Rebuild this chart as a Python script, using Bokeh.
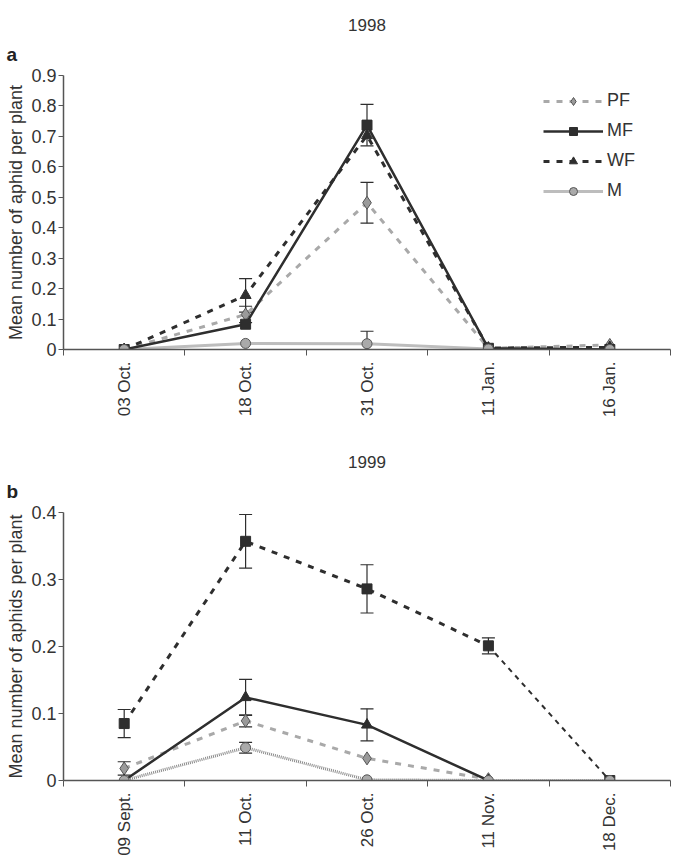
import math
from bokeh.plotting import figure
from bokeh.models import (FixedTicker, Range1d, Whisker, ColumnDataSource, Legend,
                          LegendItem, Title, TeeHead, NumeralTickFormatter)
from bokeh.layouts import column
from bokeh.embed import file_html
from bokeh.resources import INLINE

NAN = float("nan")
FONT = "Liberation Sans"
DARK = "#2e2e2e"
GREY = "#a9a9a9"
AXIS = "#555555"

# ---------------- Panel a (1998) ----------------
A_DATES = ["03 Oct.", "18 Oct.", "31 Oct.", "11 Jan.", "16 Jan."]
A_PF = [0.0, 0.115, 0.482, 0.004, 0.015]
A_PF_ERR = [None, 0.027, 0.067, None, None]
A_MF = [0.0, 0.083, 0.737, 0.004, 0.0]
A_MF_ERR = [None, None, 0.068, None, None]
A_WF = [0.0, 0.178, 0.703, 0.005, 0.007]
A_WF_ERR = [None, 0.055, None, None, None]
A_M = [0.0, 0.02, 0.019, 0.002, 0.0]
A_M_ERR = [None, None, 0.041, None, None]
A_YTICKS = [0, 0.1, 0.2, 0.3, 0.4, 0.5, 0.6, 0.7, 0.8, 0.9]

# ---------------- Panel b (1999) ----------------
B_DATES = ["09 Sept.", "11 Oct.", "26 Oct.", "11 Nov.", "18 Dec."]
B_SQ = [0.085, 0.357, 0.286, 0.201, 0.0]        # dark dashed, squares
B_SQ_ERR = [0.021, 0.040, 0.036, 0.012, None]
B_TRI = [0.0, 0.124, 0.083, 0.0, NAN]           # dark solid, triangles
B_TRI_ERR = [None, 0.027, 0.024, None, None]
B_DIA = [0.018, 0.089, 0.033, 0.002, NAN]       # grey dashed, diamonds
B_DIA_ERR = [0.010, 0.009, None, None, None]
B_CIR = [0.0, 0.049, 0.001, 0.0, 0.0]           # grey hatched, circles
B_CIR_ERR = [None, 0.008, None, None, None]
B_YTICKS = [0, 0.1, 0.2, 0.3, 0.4]


def base_fig(dates, yticks, ylabel, year, letter, height, top, bottom, right):
    n = len(dates)
    p = figure(width=685, height=height, output_backend="svg", toolbar_location=None,
               x_range=Range1d(0.5, n + 0.5), y_range=Range1d(0, yticks[-1]),
               min_border_left=63, min_border_right=right,
               min_border_top=top, min_border_bottom=bottom)
    p.xgrid.visible = False
    p.ygrid.visible = False
    p.outline_line_color = None
    p.background_fill_color = "white"
    p.border_fill_color = "white"

    # year title (outer) and panel letter (closer to frame)
    p.title.text = year
    p.title.align = "center"
    p.title.text_font = FONT
    p.title.text_font_size = "17px"
    p.title.text_font_style = "normal"
    p.title.text_color = "#333333"
    p.title.standoff = 0
    p.add_layout(Title(text=letter, align="left", offset=-57, text_font=FONT,
                       text_font_size="19px", text_font_style="bold",
                       text_line_height=0.7,
                       text_color="#222222", standoff=22), "above")

    xa = p.xaxis[0]
    xa.ticker = FixedTicker(ticks=list(range(1, n + 1)),
                            minor_ticks=[i + 0.5 for i in range(0, n + 1)])
    xa.major_label_overrides = {i + 1: d for i, d in enumerate(dates)}
    xa.major_label_orientation = math.pi / 2
    xa.major_tick_line_color = None
    xa.minor_tick_in = 0
    xa.minor_tick_out = 6
    xa.minor_tick_line_color = AXIS
    xa.axis_line_color = AXIS
    xa.axis_line_width = 1.5
    xa.major_label_text_font = FONT
    xa.major_label_text_font_size = "17px"
    xa.major_label_text_color = "#333333"
    xa.major_label_standoff = 6

    ya = p.yaxis[0]
    ya.ticker = FixedTicker(ticks=yticks)
    ya.formatter = NumeralTickFormatter(format="0.[0]")
    ya.major_tick_in = 0
    ya.major_tick_out = 5
    ya.minor_tick_line_color = None
    ya.major_tick_line_color = AXIS
    ya.axis_line_color = AXIS
    ya.axis_line_width = 1.5
    ya.major_label_text_font = FONT
    ya.major_label_text_font_size = "18px"
    ya.major_label_text_color = "#333333"
    ya.major_label_standoff = 2
    ya.axis_label = ylabel
    ya.axis_label_text_font = FONT
    ya.axis_label_text_font_size = "18px"
    ya.axis_label_text_font_style = "normal"
    ya.axis_label_text_color = "#333333"
    ya.axis_label_standoff = 2
    return p


def whisk(p, xs, ys, errs):
    bx, lo, hi = [], [], []
    for x, y, e in zip(xs, ys, errs):
        if e is not None:
            bx.append(x)
            lo.append(y - e)
            hi.append(y + e)
    src = ColumnDataSource(dict(x=bx, lower=lo, upper=hi))
    w = Whisker(base="x", lower="lower", upper="upper", source=src,
                line_color=DARK, line_width=1.2,
                upper_head=TeeHead(size=13, line_color=DARK, line_width=1.2),
                lower_head=TeeHead(size=13, line_color=DARK, line_width=1.2))
    p.add_layout(w)


# ---------- panel a ----------
nA = len(A_DATES)
xa_pos = list(range(1, nA + 1))
pa = base_fig(A_DATES, A_YTICKS, "Mean number of aphid per plant", "1998", "a",
              420, 75, 71, 1)

m_l = pa.line(xa_pos, A_M, line_color="#bdbdbd", line_width=3)
pf_l = pa.line(xa_pos, A_PF, line_color=GREY, line_width=3, line_dash="6 7")
wf_l = pa.line(xa_pos, A_WF, line_color=DARK, line_width=3, line_dash="6 7")
mf_l = pa.line(xa_pos, A_MF, line_color=DARK, line_width=2.5)
for ys, errs in [(A_PF, A_PF_ERR), (A_MF, A_MF_ERR), (A_WF, A_WF_ERR), (A_M, A_M_ERR)]:
    whisk(pa, xa_pos, ys, errs)
pf_m = pa.scatter(xa_pos, A_PF, marker="diamond", size=13, fill_color="#9a9a9a",
                  line_color="#555555", line_width=1)
wf_m = pa.scatter(xa_pos, A_WF, marker="triangle", size=11, fill_color=DARK,
                  line_color=DARK)
mf_m = pa.scatter(xa_pos, A_MF, marker="square", size=10, fill_color=DARK,
                  line_color=DARK)
m_m = pa.scatter(xa_pos, A_M, marker="circle", size=10, fill_color="#aaaaaa",
                 line_color="#555555", line_width=1)

legend = Legend(items=[LegendItem(label="PF", renderers=[pf_l, pf_m]),
                       LegendItem(label="MF", renderers=[mf_l, mf_m]),
                       LegendItem(label="WF", renderers=[wf_l, wf_m]),
                       LegendItem(label="M", renderers=[m_l, m_m])],
                location=(480, 148), orientation="vertical",
                glyph_width=60, glyph_height=20, spacing=9, padding=0, margin=0,
                label_standoff=4, label_text_font=FONT, label_text_font_size="18px",
                label_text_color="#333333", label_height=20,
                background_fill_alpha=0, border_line_color=None)
pa.add_layout(legend)

# ---------- panel b ----------
nB = len(B_DATES)
xb_pos = list(range(1, nB + 1))
pb = base_fig(B_DATES, B_YTICKS, "Mean number of aphids per plant", "1999", "b",
              438, 92, 77, 15)

pb.line(xb_pos, B_CIR, line_color="#8a8a8a", line_width=3, line_dash="1 1")
pb.line(xb_pos, B_DIA, line_color=GREY, line_width=3, line_dash="6 7")
pb.line(xb_pos[:4], B_SQ[:4], line_color=DARK, line_width=3, line_dash="6 7")
pb.line(xb_pos[3:], B_SQ[3:], line_color=DARK, line_width=2, line_dash="5 5")
pb.line(xb_pos, B_TRI, line_color=DARK, line_width=2.5)
for ys, errs in [(B_SQ, B_SQ_ERR), (B_TRI, B_TRI_ERR), (B_DIA, B_DIA_ERR), (B_CIR, B_CIR_ERR)]:
    whisk(pb, xb_pos, ys, errs)
pb.scatter(xb_pos, B_DIA, marker="diamond", size=13, fill_color="#9a9a9a",
           line_color="#555555", line_width=1)
pb.scatter(xb_pos, B_TRI, marker="triangle", size=11, fill_color=DARK, line_color=DARK)
pb.scatter(xb_pos, B_SQ, marker="square", size=10, fill_color=DARK, line_color=DARK)
pb.scatter(xb_pos, B_CIR, marker="circle", size=10, fill_color="#aaaaaa",
           line_color="#555555", line_width=1)

layout = column(pa, pb)
open("out.html", "w").write(file_html(layout, INLINE))
